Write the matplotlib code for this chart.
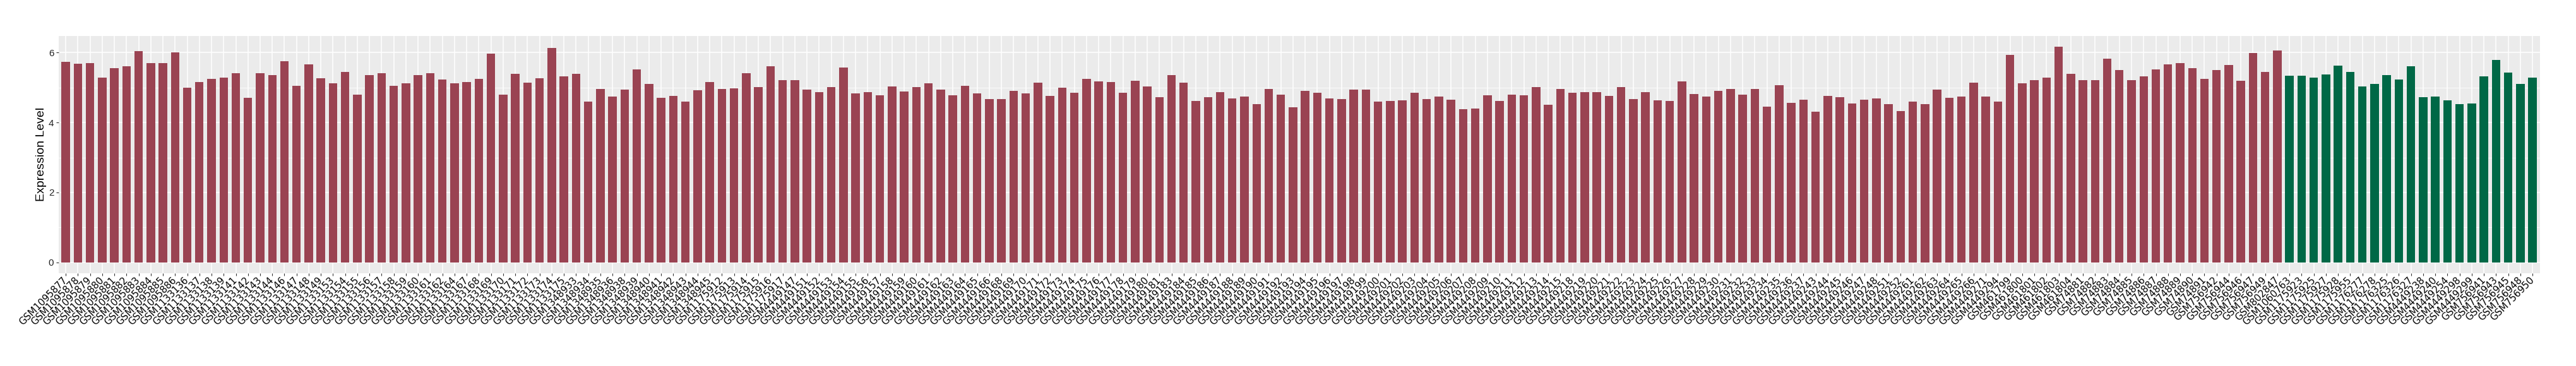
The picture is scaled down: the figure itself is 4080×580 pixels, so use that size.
import matplotlib
matplotlib.use('Agg')
import matplotlib.pyplot as plt
import numpy as np

# tumour samples (red)
tumor_samples = (
    ['GSM10958%d' % i for i in range(77, 87)]
    + ['GSM1133%d' % i for i in [136, 137, 138, 139, 141, 142, 143, 144, 146, 147, 148, 149,
                                 153, 154, 155, 156, 157, 158, 159, 160, 161, 162, 164,
                                 167, 168, 169, 170, 171, 172, 173, 174, 175]]
    + ['GSM1348%d' % i for i in [933, 934, 935, 936, 938, 939, 940, 941, 942, 943, 944, 945]]
    + ['GSM1175%d' % i for i in [912, 913, 914, 915, 916, 917]]
    + ['GSM4449%d' % i for i in [147] + list(range(151, 167)) + list(range(168, 182))
       + list(range(183, 216)) + list(range(218, 238)) + list(range(243, 249))
       + [251, 252] + list(range(261, 267)) + [271, 294]]
    + ['GSM461%d' % i for i in [799, 800, 801, 802, 803, 804]]
    + ['GSM74%d' % i for i in range(881, 892)]
    + ['GSM756%d' % i for i in [942, 944, 946, 947, 949]]
    + ['GSM802847']
)
tumor_values = [
    5.73, 5.68, 5.70, 5.28, 5.55, 5.61, 6.04, 5.71, 5.71, 6.01,
    4.99, 5.16, 5.25, 5.28, 5.41, 4.71, 5.41, 5.35, 5.75, 5.05,
    5.66, 5.27, 5.12, 5.45, 4.79, 5.35, 5.41, 5.05, 5.12, 5.35,
    5.41, 5.23, 5.12, 5.16, 5.25, 5.97, 4.79, 5.39, 5.14, 5.27,
    6.13, 5.32, 5.39, 4.60, 4.96, 4.74, 4.94, 5.53, 5.10, 4.71,
    4.76, 4.60, 4.92, 5.16, 4.96, 4.98, 5.41, 5.01, 5.61, 5.21,
    5.21, 4.94, 4.87, 5.01, 5.57, 4.83, 4.87, 4.78, 5.03, 4.89,
    5.01, 5.12, 4.94, 4.78, 5.05, 4.83, 4.67, 4.67, 4.91, 4.83,
    5.14, 4.76, 4.99, 4.85, 5.25, 5.17, 5.16, 4.85, 5.19, 5.03,
    4.73, 5.35, 5.14, 4.61, 4.73, 4.87, 4.69, 4.74, 4.53, 4.96,
    4.79, 4.43, 4.91, 4.85, 4.69, 4.67, 4.94, 4.94, 4.60, 4.61,
    4.63, 4.85, 4.67, 4.74, 4.65, 4.38, 4.40, 4.78, 4.61, 4.79,
    4.78, 5.01, 4.51, 4.96, 4.85, 4.87, 4.87, 4.76, 5.01, 4.67,
    4.87, 4.63, 4.61, 5.17, 4.81, 4.74, 4.91, 4.96, 4.79, 4.96,
    4.45, 5.07, 4.56, 4.65, 4.31, 4.76, 4.73, 4.55, 4.65, 4.69,
    4.53, 4.33, 4.60, 4.53, 4.94, 4.71, 4.74, 5.14, 4.74, 4.60,
    5.93, 5.12, 5.21, 5.28, 6.17, 5.39, 5.21, 5.21, 5.83, 5.50,
    5.21, 5.32, 5.53, 5.66, 5.70, 5.55, 5.25, 5.50, 5.65, 5.19,
    5.99, 5.45, 6.07,
]

# normal samples (green)
normal_samples = (
    ['GSM1060763']
    + ['GSM1175%d' % i for i in [923, 925, 927, 928, 955]]
    + ['GSM1176%d' % i for i in [277, 278, 325, 326, 327]]
    + ['GSM4449%d' % i for i in [238, 240, 254, 298, 299]]
    + ['GSM756%d' % i for i in [941, 943, 945, 948, 950]]
)
normal_values = [
    5.34, 5.34, 5.28, 5.37, 5.63, 5.45, 5.03, 5.10, 5.35, 5.23,
    5.61, 4.73, 4.74, 4.63, 4.53, 4.55, 5.32, 5.79, 5.43, 5.10,
    5.28,
]

samples = tumor_samples + normal_samples
values = tumor_values + normal_values
colors = ['#9A4352'] * len(tumor_values) + ['#006846'] * len(normal_values)

fig = plt.figure(figsize=(40.80001, 5.80001), dpi=100)
ax = fig.add_axes([92.5 / 4080, 1 - 432.8 / 580, (4022.7 - 92.5) / 4080, (432.8 - 57) / 580])
ax.set_facecolor('#EBEBEB')

x = np.arange(1, len(values) + 1)
ax.bar(x, values, width=0.7, color=colors, zorder=3)

# ggplot-like expansion
ymax = max(values)
ax.set_xlim(0.4, len(values) + 0.6)
ax.set_ylim(-0.05 * ymax, 1.05 * ymax)

ax.set_yticks([0, 2, 4, 6])
ax.set_yticks([1, 3, 5], minor=True)
ax.set_xticks(x)
ax.set_xticklabels(samples, rotation=45, ha='right', va='center',
                   rotation_mode='anchor', fontsize=10.8, family='DejaVu Sans', color='black')
for lab in ax.get_yticklabels():
    lab.set_family('Liberation Sans')
    lab.set_fontsize(11)
    lab.set_color('#222222')

ax.grid(which='major', color='white', linewidth=1.1, zorder=1)
ax.grid(which='minor', axis='y', color='white', linewidth=0.55, zorder=1)
ax.tick_params(axis='both', which='major', length=2.7, width=0.8, color='#333333', pad=2.5)
ax.tick_params(axis='x', pad=3.5)
ax.tick_params(which='minor', length=0)
for s in ax.spines.values():
    s.set_visible(False)

ax.set_ylabel('Expression Level', fontsize=14, family='Liberation Sans', labelpad=2)

fig.savefig('out.png', dpi=100)
